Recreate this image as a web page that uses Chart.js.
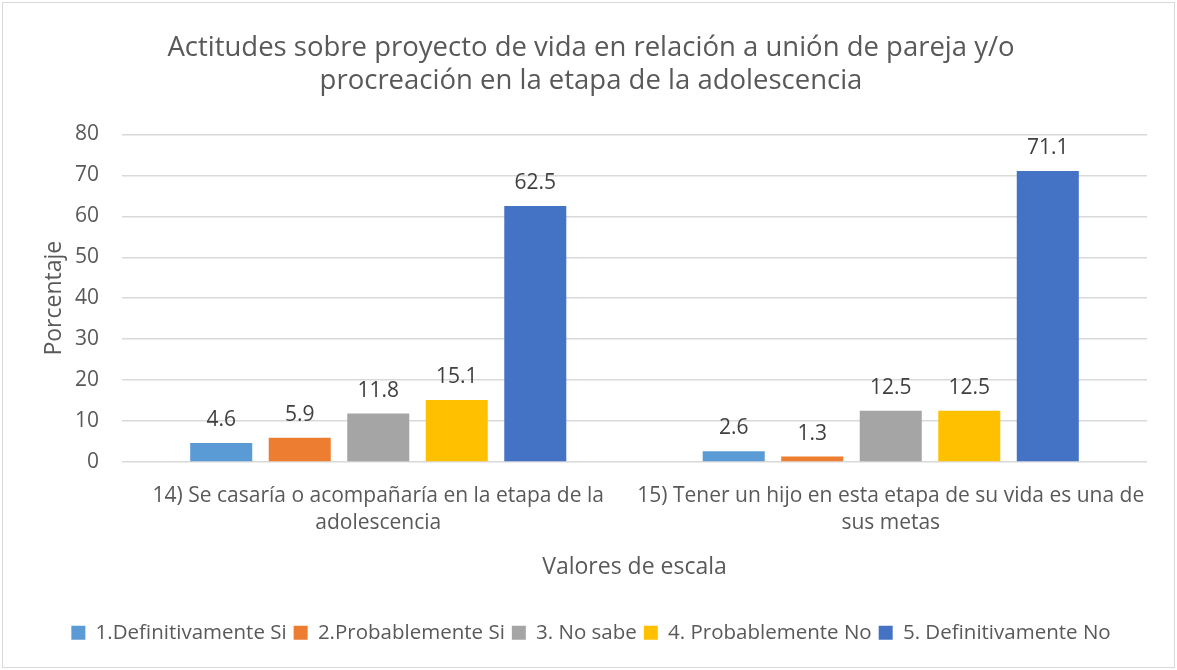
<!DOCTYPE html>
<html>
<head>
<meta charset="utf-8">
<script src="https://cdn.jsdelivr.net/npm/chart.js@4.4.1/dist/chart.umd.min.js"></script>
<style>
html,body{margin:0;padding:0;background:#fff;}
#wrap{position:relative;width:1177px;height:670px;}
</style>
</head>
<body>
<div id="wrap"><canvas id="c" width="1177" height="670"></canvas></div>
<script>
const categories = [
  ['14) Se casaría o acompañaría en la etapa de la', 'adolescencia'],
  ['15) Tener un hijo en esta etapa de su vida es una de', 'sus metas']
];
const seriesNames = ['1.Definitivamente Si', '2.Probablemente Si', '3. No sabe', '4. Probablemente No', '5. Definitivamente No'];
const definitivamenteSi = [4.6, 2.6];
const probablementeSi = [5.9, 1.3];
const noSabe = [11.8, 12.5];
const probablementeNo = [15.1, 12.5];
const definitivamenteNo = [62.5, 71.1];
const yTicks = [0, 10, 20, 30, 40, 50, 60, 70, 80];
const colors = ['#5B9BD5', '#ED7D31', '#A5A5A5', '#FFC000', '#4472C4'];

const FONT = '"Open Sans", sans-serif';
const TXT = '#595959';

const seriesValues = [definitivamenteSi, probablementeSi, noSabe, probablementeNo, definitivamenteNo];

const bgPlugin = {
  id: 'bg',
  beforeDraw(chart) {
    const ctx = chart.ctx;
    ctx.save();
    ctx.fillStyle = '#fff';
    ctx.fillRect(0, 0, chart.width, chart.height);
    ctx.strokeStyle = '#d9d9d9';
    ctx.lineWidth = 1;
    ctx.strokeRect(2.5, 2.5, chart.width - 5, chart.height - 5);
    ctx.restore();
  }
};

const labelPlugin = {
  id: 'vlabels',
  afterDatasetsDraw(chart) {
    const ctx = chart.ctx;
    ctx.save();
    ctx.font = '21px ' + FONT;
    ctx.fillStyle = '#404040';
    ctx.textAlign = 'center';
    ctx.textBaseline = 'alphabetic';
    chart.data.datasets.forEach((ds, i) => {
      const meta = chart.getDatasetMeta(i);
      meta.data.forEach((bar, j) => {
        ctx.fillText(ds.data[j].toFixed(1), bar.x, bar.y - 17);
      });
    });
    ctx.restore();
  }
};

new Chart(document.getElementById('c'), {
  type: 'bar',
  data: {
    labels: categories,
    datasets: seriesNames.map((n, i) => ({
      label: n,
      data: seriesValues[i],
      backgroundColor: colors[i],
      borderWidth: 0,
      categoryPercentage: 0.766,
      barPercentage: 0.79
    }))
  },
  options: {
    responsive: false,
    animation: false,
    layout: { padding: { left: 35, right: 30, top: 32, bottom: 17 } },
    plugins: {
      title: {
        display: true,
        text: ['Actitudes sobre proyecto de vida en relación a unión de pareja y/o', 'procreación en la etapa de la adolescencia'],
        color: TXT,
        font: { family: FONT, size: 27.5, weight: 'normal' },
        lineHeight: 1.3,
        padding: { top: 0, bottom: 36.5 }
      },
      legend: {
        position: 'bottom',
        labels: {
          color: TXT,
          font: { family: FONT, size: 20.5 },
          boxWidth: 14,
          boxHeight: 14,
          padding: 7
        }
      },
      tooltip: { enabled: false }
    },
    scales: {
      x: {
        grid: { display: false },
        border: { display: false },
        ticks: { color: TXT, font: { family: FONT, size: 21, lineHeight: 1.3 }, padding: 12, maxRotation: 0, autoSkip: false },
        title: { display: true, text: 'Valores de escala', color: TXT, font: { family: FONT, size: 23 }, padding: { top: 5.6, bottom: 33.8 } }
      },
      y: {
        min: 0, max: 80,
        afterBuildTicks(axis) { axis.ticks = yTicks.map(v => ({ value: v })); },
        afterFit(axis) { axis.width = 122 - 35; },
        grid: { color: '#d9d9d9', lineWidth: 1.5, drawTicks: false },
        border: { display: false },
        ticks: { color: TXT, font: { family: FONT, size: 21 }, padding: 23 },
        title: { display: true, text: 'Porcentaje', color: TXT, font: { family: FONT, size: 23 }, padding: { top: 6, bottom: 4 } }
      }
    }
  },
  plugins: [bgPlugin, labelPlugin]
});
</script>
</body>
</html>
